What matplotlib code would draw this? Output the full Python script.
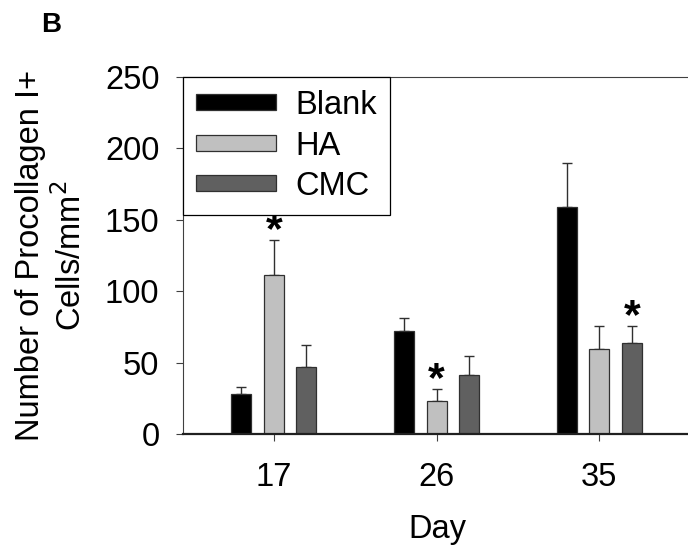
import numpy as np
import matplotlib
matplotlib.use("Agg")
import matplotlib.pyplot as plt
from matplotlib.patches import Patch
from matplotlib.transforms import offset_copy

plt.rcParams['font.family'] = ['Liberation Sans', 'DejaVu Sans']

days = ['17', '26', '35']
groups = ['Blank', 'HA', 'CMC']
means = {
    'Blank': [27.8, 71.9, 159.0],
    'HA': [111.1, 22.9, 59.7],
    'CMC': [46.7, 41.3, 63.7],
}
errs = {
    'Blank': [5.3, 9.1, 31.0],
    'HA': [24.9, 8.4, 15.7],
    'CMC': [15.6, 13.1, 11.7],
}
# (group, day index) pairs marked as significant
stars = [('HA', 0), ('HA', 1), ('CMC', 2)]

colors = {'Blank': '#000000', 'HA': '#c0c0c0', 'CMC': '#606060'}
fs = 23.5

fig = plt.figure(figsize=(6.88, 5.46), dpi=100)
ax = fig.add_axes([0.266, 0.205, 0.74, 0.654])

x = np.arange(len(days))
step = 0.2
w = 0.122
for i, g in enumerate(groups):
    pos = x + (i - 1) * step
    ax.bar(pos, means[g], w, color=colors[g], edgecolor='#303030', linewidth=0.9, zorder=2)
    ax.errorbar(pos, means[g], yerr=[np.zeros(3), errs[g]], fmt='none',
                ecolor='#303030', elinewidth=1.0, capsize=3.3, capthick=1.0, zorder=1)

# star baseline sits a little below the error cap so the glyph lands just above it
star_tr = offset_copy(ax.transData, fig=fig, x=0, y=-1.5, units='points')
for g, d in stars:
    i = groups.index(g)
    top = means[g][d] + errs[g][d]
    ax.text(x[d] + (i - 1) * step, top, '*', ha='center', va='baseline',
            fontsize=31, fontweight='bold', color='black', transform=star_tr, zorder=1)

ax.set_xlim(-0.558, 2.57)
ax.set_ylim(0, 250)
ax.set_yticks([0, 50, 100, 150, 200, 250])
ax.set_xticks(x)
ax.set_xticklabels(days)
ax.tick_params(axis='both', labelsize=fs, direction='out', length=5, width=0.8, color='#404040', pad=12)
ax.tick_params(axis='x', pad=15)
ax.set_xlabel('Day', fontsize=fs, labelpad=15)
ax.set_ylabel('Number of Procollagen I+\nCells/mm$^2$', fontsize=fs, labelpad=12,
              linespacing=1.25)

ax.spines['right'].set_visible(False)
ax.spines['top'].set_color('#404040')
ax.spines['top'].set_linewidth(0.8)
ax.spines['left'].set_color('#404040')
ax.spines['left'].set_linewidth(0.8)
ax.spines['bottom'].set_color('#202020')
ax.spines['bottom'].set_linewidth(1.6)

handles = [Patch(facecolor=colors[g], edgecolor='#303030', linewidth=0.9) for g in groups]
leg = ax.legend(handles, groups, loc='upper left', bbox_to_anchor=(0, 1), borderaxespad=0,
                fontsize=fs, handlelength=2.45, handleheight=0.38, handletextpad=0.6,
                labelspacing=0.29, borderpad=0.4, fancybox=False, framealpha=1)
leg.get_frame().set_edgecolor('black')
leg.get_frame().set_linewidth(0.9)
leg.set_zorder(5)

fig.text(0.074, 0.955, 'B', fontsize=20, fontweight='bold', ha='center', va='center')

fig.savefig('out.png', dpi=100)
